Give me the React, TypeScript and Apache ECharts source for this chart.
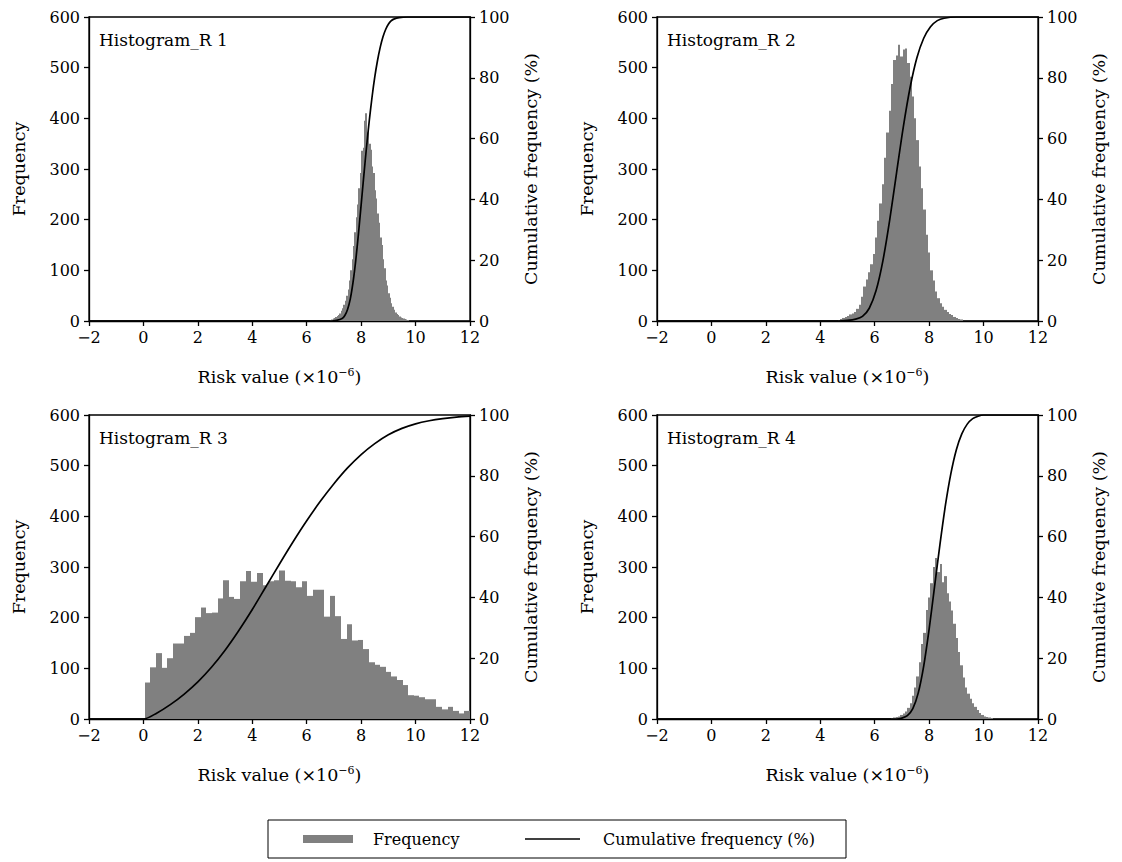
import React, { useEffect, useRef } from "react";
import * as echarts from "echarts";

// ---------- data ----------
const xMin = -2;
const xMax = 12;
const panelTitles = ["Histogram_R 1", "Histogram_R 2", "Histogram_R 3", "Histogram_R 4"];
const legendNames = ["Frequency", "Cumulative frequency (%)"];

// Panel 1 histogram (bin start, bin width, counts)
const r1Start = 6.85;
const r1Width = 0.05;
const r1Freq = [2, 3, 5, 6, 8, 10, 12, 15, 20, 25, 32, 40, 50, 62, 80, 100, 122, 148, 175, 205, 230, 262, 292, 336, 342, 395, 410, 372, 380, 350, 338, 305, 292, 258, 242, 212, 194, 165, 150, 122, 104, 80, 70, 55, 46, 35, 28, 22, 17, 14, 12, 9, 7, 6, 5, 4, 3, 2];
const r1CumX = [-2, 6.9, 7.1, 7.3, 7.4, 7.5, 7.6, 7.7, 7.8, 7.9, 8.0, 8.1, 8.2, 8.3, 8.4, 8.5, 8.6, 8.7, 8.8, 8.9, 9.0, 9.1, 9.2, 9.4, 9.7, 12];
const r1Cum = [0, 0, 0.2, 0.8, 1.8, 3.8, 7.2, 12.6, 19.8, 28.6, 38.2, 48.0, 57.4, 66.0, 73.6, 80.2, 85.6, 90.0, 93.4, 95.9, 97.6, 98.7, 99.3, 99.8, 100, 100];

// Panel 2
const r2Start = 4.645;
const r2Width = 0.085;
const r2Freq = [2, 4, 6, 8, 10, 13, 15, 18, 24, 32, 48, 68, 82, 96, 112, 132, 165, 198, 232, 270, 322, 372, 415, 468, 515, 524, 545, 522, 536, 538, 509, 482, 443, 400, 357, 305, 262, 220, 170, 135, 100, 80, 58, 45, 35, 28, 22, 18, 14, 12, 8, 6, 4, 3];
const r2CumX = [-2, 4.6, 5.0, 5.3, 5.55, 5.8, 6.05, 6.3, 6.55, 6.8, 7.05, 7.3, 7.55, 7.8, 8.05, 8.3, 8.55, 9.0, 12];
const r2Cum = [0, 0, 0.2, 0.6, 1.5, 4.2, 10.0, 19.8, 33.2, 48.6, 63.8, 76.8, 86.6, 93.0, 96.8, 98.8, 99.6, 100, 100];

// Panel 3
const r3Start = 0.05;
const r3Width = 0.206;
const r3Freq = [72, 102, 130, 101, 120, 149, 149, 164, 170, 201, 220, 209, 210, 238, 274, 241, 237, 272, 292, 271, 288, 264, 272, 274, 293, 273, 272, 260, 272, 243, 255, 255, 202, 243, 203, 158, 187, 155, 156, 138, 112, 107, 103, 93, 84, 77, 67, 47, 46, 43, 39, 39, 24, 19, 24, 16, 11, 16];
const r3CumX = [-2, 0, 0.5, 1, 1.5, 2, 2.5, 3, 3.5, 4, 4.5, 5, 5.5, 6, 6.5, 7, 7.5, 8, 8.5, 9, 9.5, 10, 10.5, 11, 11.5, 12];
const r3Cum = [0, 0, 2.0, 4.8, 8.2, 12.2, 17.0, 22.6, 29.0, 36.0, 43.5, 51.0, 58.3, 65.2, 71.6, 77.4, 82.6, 87.0, 90.6, 93.5, 95.6, 97.1, 98.1, 98.8, 99.3, 99.6];

// Panel 4
const r4Start = 6.6;
const r4Width = 0.085;
const r4Freq = [2, 3, 4, 5, 8, 11, 15, 22, 31, 46, 62, 84, 112, 148, 170, 215, 240, 268, 300, 318, 290, 306, 270, 282, 248, 232, 214, 188, 160, 132, 106, 82, 62, 50, 40, 31, 24, 18, 12, 8, 5, 4, 3, 2];
const r4CumX = [-2, 6.8, 7.0, 7.2, 7.4, 7.6, 7.8, 8.0, 8.2, 8.4, 8.6, 8.8, 9.0, 9.2, 9.4, 9.6, 9.8, 10.0, 12];
const r4Cum = [0, 0, 0.3, 1.1, 3.4, 8.6, 17.4, 29.6, 43.6, 57.6, 70.4, 80.8, 88.6, 93.8, 97.0, 98.8, 99.6, 100, 100];

const panels = [
  { start: r1Start, width: r1Width, freq: r1Freq, cumX: r1CumX, cum: r1Cum },
  { start: r2Start, width: r2Width, freq: r2Freq, cumX: r2CumX, cum: r2Cum },
  { start: r3Start, width: r3Width, freq: r3Freq, cumX: r3CumX, cum: r3Cum },
  { start: r4Start, width: r4Width, freq: r4Freq, cumX: r4CumX, cum: r4Cum },
];

// ---------- layout ----------
const FONT = "DejaVu Serif";
const GRIDS = [
  { left: 89, top: 17 },
  { left: 657, top: 17 },
  { left: 89, top: 415 },
  { left: 657, top: 415 },
];
const GW = 381;
const GH = 304;
const BAR = "#808080";
const TICK_FS = 16;
const NAME_FS = 17.5;
const TITLE_FS = 17;

export default function App() {
  const ref = useRef<HTMLDivElement>(null);

  useEffect(() => {
    if (!ref.current) return;
    const chart = echarts.init(ref.current, undefined, { renderer: "svg" });

    const grid: any[] = [];
    const xAxis: any[] = [];
    const yAxis: any[] = [];
    const series: any[] = [];
    const graphic: any[] = [];

    const tickStyle = { fontFamily: FONT, fontSize: TICK_FS, color: "#000" };
    const nameStyle = { fontFamily: FONT, fontSize: NAME_FS, color: "#000" };
    const axisLine = { show: true, onZero: false, lineStyle: { color: "#000", width: 1.3 } };
    const axisTick = { show: true, inside: false, length: 5, lineStyle: { color: "#000", width: 1.3 } };

    panels.forEach((p, i) => {
      const g = GRIDS[i];
      grid.push({
        left: g.left,
        top: g.top,
        width: GW,
        height: GH,
        show: true,
        borderColor: "#000",
        borderWidth: 1.3,
        backgroundColor: "transparent",
      });
      xAxis.push({
        gridIndex: i,
        type: "value",
        min: xMin,
        max: xMax,
        interval: 2,
        splitLine: { show: false },
        axisLine,
        axisTick,
        axisLabel: {
          ...tickStyle,
          margin: 8,
          formatter: (v: number) => (v < 0 ? "\u2212" + Math.abs(v) : String(v)),
        },
        name: "Risk value (\u00d710{sup|\u22126})",
        nameLocation: "middle",
        nameGap: 46,
        nameTextStyle: {
          ...nameStyle,
          rich: {
            sup: { fontFamily: FONT, fontSize: 11, color: "#000", padding: [0, 0, 9, 0] },
          },
        },
      });
      yAxis.push({
        gridIndex: i,
        type: "value",
        min: 0,
        max: 600,
        interval: 100,
        position: "left",
        splitLine: { show: false },
        axisLine,
        axisTick,
        axisLabel: { ...tickStyle, margin: 9 },
        name: "Frequency",
        nameLocation: "middle",
        nameRotate: 90,
        nameGap: 61,
        nameTextStyle: nameStyle,
      });
      yAxis.push({
        gridIndex: i,
        type: "value",
        min: 0,
        max: 100,
        interval: 20,
        position: "right",
        splitLine: { show: false },
        axisLine,
        axisTick,
        axisLabel: { ...tickStyle, margin: 9 },
        name: "Cumulative frequency (%)",
        nameLocation: "middle",
        nameRotate: 90,
        nameGap: 52,
        nameTextStyle: nameStyle,
      });

      series.push({
        type: "custom",
        name: legendNames[0],
        xAxisIndex: i,
        yAxisIndex: i * 2,
        itemStyle: { color: BAR },
        encode: { x: [0, 1], y: 2 },
        clip: true,
        data: p.freq.map((f, k) => [p.start + k * p.width, p.start + (k + 1) * p.width, f]),
        renderItem: (params: any, api: any) => {
          const p0 = api.coord([api.value(0), api.value(2)]);
          const p1 = api.coord([api.value(1), 0]);
          const x0 = Math.round(p0[0]);
          let x1 = Math.round(p1[0]);
          if (x1 <= x0) x1 = x0 + 1;
          return {
            type: "rect",
            shape: { x: x0, y: p0[1], width: x1 - x0, height: p1[1] - p0[1] },
            style: { fill: BAR },
          };
        },
      });
      series.push({
        type: "line",
        name: legendNames[1],
        xAxisIndex: i,
        yAxisIndex: i * 2 + 1,
        data: p.cumX.map((x, k) => [x, p.cum[k]]),
        showSymbol: false,
        symbol: "none",
        smooth: 0.3,
        lineStyle: { color: "#000", width: 1.7 },
        itemStyle: { color: "#000" },
        z: 5,
      });

      graphic.push({
        type: "text",
        left: g.left + 10,
        top: g.top + 14,
        style: { text: panelTitles[i], fontFamily: FONT, fontSize: TITLE_FS, fill: "#000" },
      });
    });

    // legend box drawn with graphic elements
    const legTop = 820;
    const legMid = legTop + 19;
    graphic.push({
      type: "rect",
      shape: { x: 268, y: legTop, width: 578, height: 38 },
      style: { fill: "none", stroke: "#000", lineWidth: 1 },
    });
    graphic.push({
      type: "rect",
      shape: { x: 303, y: legMid - 4, width: 50, height: 8 },
      style: { fill: BAR },
    });
    graphic.push({
      type: "text",
      x: 373,
      y: legMid,
      style: { text: legendNames[0], fontFamily: FONT, fontSize: 16, fill: "#000", verticalAlign: "middle" },
    });
    graphic.push({
      type: "line",
      shape: { x1: 525, y1: legMid, x2: 580, y2: legMid },
      style: { stroke: "#000", lineWidth: 1.5 },
    });
    graphic.push({
      type: "text",
      x: 603,
      y: legMid,
      style: { text: legendNames[1], fontFamily: FONT, fontSize: 16, fill: "#000", verticalAlign: "middle" },
    });

    chart.setOption({
      animation: false,
      backgroundColor: "#fff",
      grid,
      xAxis,
      yAxis,
      series,
      graphic,
    });

    return () => chart.dispose();
  }, []);

  return (
    <div
      ref={ref}
      style={{ position: "absolute", left: 0, top: 0, width: 1122, height: 862 }}
    />
  );
}
